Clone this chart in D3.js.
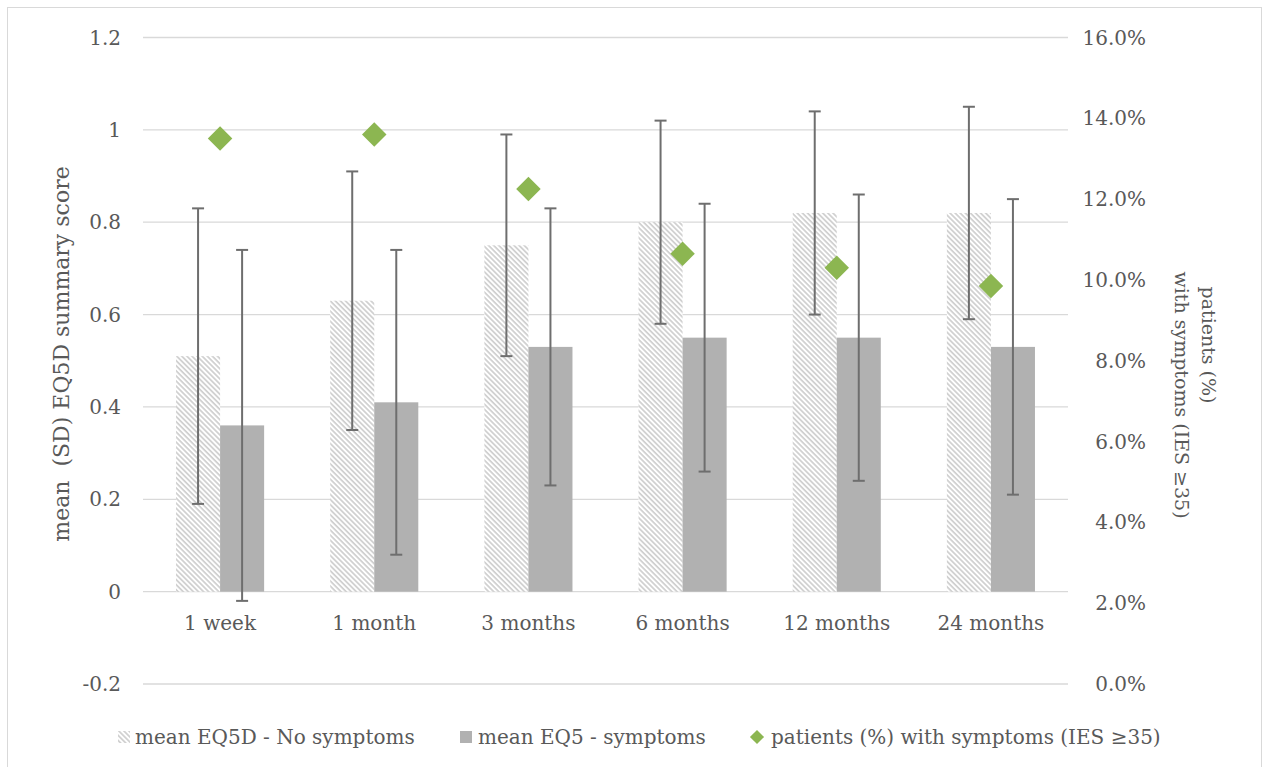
<!DOCTYPE html>
<html>
<head>
<meta charset="utf-8">
<script src="https://cdn.jsdelivr.net/npm/d3@7"></script>
<style>
  body { margin: 0; background: #fff; }
  text { font-family: "DejaVu Serif", serif; fill: #595959; }
</style>
</head>
<body>
<svg id="viz"></svg>
<script>
// data
const categories = ["1 week", "1 month", "3 months", "6 months", "12 months", "24 months"];
const meanNoSymptoms = [0.51, 0.63, 0.75, 0.80, 0.82, 0.82];
const sdNoSymptoms   = [0.32, 0.28, 0.24, 0.22, 0.22, 0.23];
const meanSymptoms   = [0.36, 0.41, 0.53, 0.55, 0.55, 0.53];
const sdSymptoms     = [0.38, 0.33, 0.30, 0.29, 0.31, 0.32];
const pctSymptoms    = [0.135, 0.136, 0.1225, 0.1065, 0.103, 0.0985];

const leftTicks  = [-0.2, 0, 0.2, 0.4, 0.6, 0.8, 1, 1.2];
const leftLabels = ["-0.2", "0", "0.2", "0.4", "0.6", "0.8", "1", "1.2"];
const rightTicks  = [0, 0.02, 0.04, 0.06, 0.08, 0.10, 0.12, 0.14, 0.16];
const rightLabels = ["0.0%", "2.0%", "4.0%", "6.0%", "8.0%", "10.0%", "12.0%", "14.0%", "16.0%"];

const seriesNames = ["mean EQ5D - No symptoms", "mean EQ5 - symptoms", "patients (%) with symptoms (IES \u226535)"];

// 1. svg
const width = 1265, height = 767;
const svg = d3.select("#viz").attr("width", width).attr("height", height);

// wide downward diagonal hatch
const defs = svg.append("defs");
const pat = defs.append("pattern")
    .attr("id", "hatch")
    .attr("patternUnits", "userSpaceOnUse")
    .attr("width", 3.6).attr("height", 3.6)
    .attr("patternTransform", "rotate(45)");
pat.append("rect").attr("width", 3.6).attr("height", 3.6).attr("fill", "#fff");
pat.append("rect").attr("width", 3.6).attr("height", 1.7).attr("fill", "#cfcfcf");

// outer border
svg.append("rect")
   .attr("x", 7.5).attr("y", 7.5)
   .attr("width", 1254).attr("height", 780)
   .attr("fill", "#fff")
   .attr("stroke", "#d9d9d9");

// 2. scales
const plotLeft = 143, plotRight = 1068;
const x = d3.scaleBand().domain(categories).range([plotLeft, plotRight]);
const y = d3.scaleLinear().domain([-0.2, 1.2]).range([684, 37.5]);
const y2 = d3.scaleLinear().domain([0, 0.16]).range([684, 37.5]);
const barW = x.bandwidth() / 3.5;

// 3. gridlines + tick labels
svg.append("g").selectAll("line")
   .data(leftTicks)
   .enter().append("line")
   .attr("x1", plotLeft).attr("x2", plotRight)
   .attr("y1", d => y(d)).attr("y2", d => y(d))
   .attr("stroke", "#d9d9d9")
   .attr("stroke-width", 1.3);

svg.append("g").selectAll("text")
   .data(leftTicks)
   .enter().append("text")
   .attr("x", 121)
   .attr("y", d => y(d))
   .attr("dy", "0.35em")
   .attr("text-anchor", "end")
   .style("font-size", "20px")
   .text((d, i) => leftLabels[i]);

svg.append("g").selectAll("text")
   .data(rightTicks)
   .enter().append("text")
   .attr("x", 1146)
   .attr("y", d => y2(d))
   .attr("dy", "0.35em")
   .attr("text-anchor", "end")
   .style("font-size", "20px")
   .text((d, i) => rightLabels[i]);

// category labels
svg.append("g").selectAll("text")
   .data(categories)
   .enter().append("text")
   .attr("x", d => x(d) + x.bandwidth() / 2)
   .attr("y", 623)
   .attr("dy", "0.35em")
   .attr("text-anchor", "middle")
   .style("font-size", "20px")
   .text(d => d);

// 4. bars
const groupLeft = d => x(d) + (x.bandwidth() - 2 * barW) / 2;

svg.append("g").selectAll("rect")
   .data(categories)
   .enter().append("rect")
   .attr("x", d => groupLeft(d))
   .attr("y", (d, i) => y(meanNoSymptoms[i]))
   .attr("width", barW)
   .attr("height", (d, i) => y(0) - y(meanNoSymptoms[i]))
   .attr("fill", "url(#hatch)");

svg.append("g").selectAll("rect")
   .data(categories)
   .enter().append("rect")
   .attr("x", d => groupLeft(d) + barW)
   .attr("y", (d, i) => y(meanSymptoms[i]))
   .attr("width", barW)
   .attr("height", (d, i) => y(0) - y(meanSymptoms[i]))
   .attr("fill", "#b1b1b1");

// 5. error bars (mean +/- SD)
function errorBars(means, sds, offset) {
    const g = svg.append("g")
        .attr("stroke", "#6e6e6e")
        .attr("stroke-width", 2);
    const items = categories.map((c, i) => ({
        cx: groupLeft(c) + offset,
        lo: y(means[i] - sds[i]),
        hi: y(means[i] + sds[i])
    }));
    g.selectAll(".v").data(items).enter().append("line")
     .attr("x1", d => d.cx).attr("x2", d => d.cx)
     .attr("y1", d => d.lo).attr("y2", d => d.hi);
    g.selectAll(".t").data(items).enter().append("line")
     .attr("x1", d => d.cx - 6).attr("x2", d => d.cx + 6)
     .attr("y1", d => d.hi).attr("y2", d => d.hi);
    g.selectAll(".b").data(items).enter().append("line")
     .attr("x1", d => d.cx - 6).attr("x2", d => d.cx + 6)
     .attr("y1", d => d.lo).attr("y2", d => d.lo);
}
errorBars(meanNoSymptoms, sdNoSymptoms, barW / 2);
errorBars(meanSymptoms, sdSymptoms, barW * 1.5);

// 6. diamonds on secondary axis
const diamond = d3.symbol().type(d3.symbolSquare).size(300);
svg.append("g").selectAll("path")
   .data(categories)
   .enter().append("path")
   .attr("d", diamond)
   .attr("fill", "#8cb651")
   .attr("transform", (d, i) =>
       "translate(" + (x(d) + x.bandwidth() / 2) + "," + y2(pctSymptoms[i]) + ") rotate(45)");

// 7. axis titles
svg.append("text")
   .attr("transform", "translate(61,354) rotate(-90)")
   .attr("text-anchor", "middle")
   .attr("dominant-baseline", "central")
   .style("font-size", "22px")
   .style("white-space", "pre")
   .text("mean  (SD) EQ5D summary score");

svg.append("text")
   .attr("transform", "translate(1209,345) rotate(90)")
   .attr("text-anchor", "middle")
   .attr("dominant-baseline", "central")
   .style("font-size", "19px")
   .text("patients (%)");

svg.append("text")
   .attr("transform", "translate(1182,395) rotate(90)")
   .attr("text-anchor", "middle")
   .attr("dominant-baseline", "central")
   .style("font-size", "19px")
   .text("with symptoms (IES \u226535)");

// 8. legend
const legend = svg.append("g");
const legX = [118, 460, 757];
const legTextX = [135, 478, 771];
legend.append("rect").attr("x", legX[0]).attr("y", 731).attr("width", 12).attr("height", 12).attr("fill", "url(#hatch)");
legend.append("rect").attr("x", legX[1]).attr("y", 731).attr("width", 12).attr("height", 12).attr("fill", "#b1b1b1");
legend.append("path")
      .attr("d", d3.symbol().type(d3.symbolSquare).size(100))
      .attr("fill", "#8cb651")
      .attr("transform", "translate(" + legX[2] + ",737) rotate(45)");
legend.selectAll("text")
      .data(seriesNames)
      .enter().append("text")
      .attr("x", (d, i) => legTextX[i])
      .attr("y", 737)
      .attr("dy", "0.35em")
      .style("font-size", "20px")
      .text(d => d);
</script>
</body>
</html>
